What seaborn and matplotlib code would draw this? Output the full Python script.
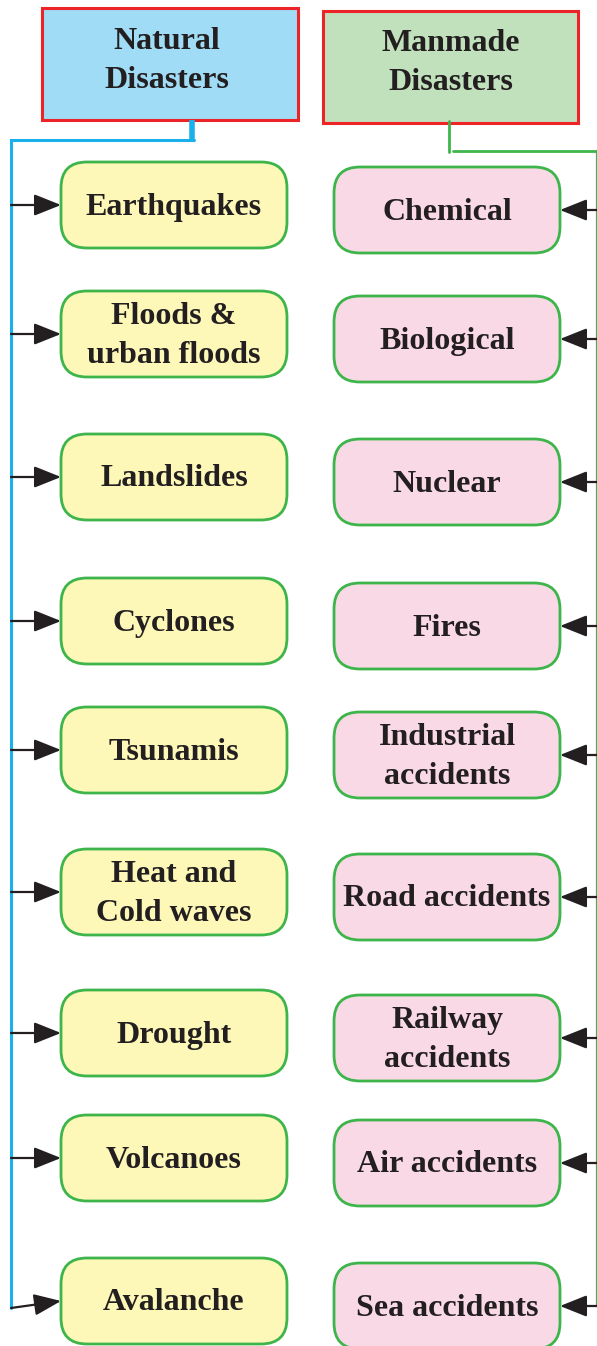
import matplotlib
matplotlib.use("Agg")
import matplotlib.pyplot as plt
from matplotlib.patches import FancyBboxPatch, Rectangle
import seaborn as sns

# categories
natural = ["Earthquakes", "Floods &\nurban floods", "Landslides", "Cyclones", "Tsunamis",
           "Heat and\nCold waves", "Drought", "Volcanoes", "Avalanche"]
manmade = ["Chemical", "Biological", "Nuclear", "Fires", "Industrial\naccidents",
           "Road accidents", "Railway\naccidents", "Air accidents", "Sea accidents"]
headers = ["Natural\nDisasters", "Manmade\nDisasters"]

# layout (pixel space of the 597x1346 picture)
natural_y = [205, 334, 477, 621, 750, 892, 1033, 1158, 1301]
manmade_y = [210, 339, 482, 626, 755, 897, 1038, 1163, 1306]

sns.set_theme(style="white")
plt.rcParams['font.family'] = ['Liberation Serif', 'DejaVu Serif']

W, H = 597, 1346
fig = plt.figure(figsize=(W / 100, H / 100), dpi=100)
ax = fig.add_axes([0, 0, 1, 1])
ax.set_xlim(0, W)
ax.set_ylim(H, 0)
ax.axis("off")

txt = dict(ha="center", va="center", fontsize=23, fontweight="bold", color="#231f20",
           linespacing=1.42)
green = "#3db54a"
blue = "#1ab0ec"

# header boxes
ax.add_patch(Rectangle((42, 8), 256, 112, facecolor="#a0dcf6", edgecolor="#ec2327", lw=2.2, zorder=2))
ax.text(167, 61, headers[0], **txt, zorder=3)
ax.add_patch(Rectangle((323, 11), 255, 112, facecolor="#c1e0bc", edgecolor="#ec2327", lw=2.2, zorder=2))
ax.text(451, 63, headers[1], **txt, zorder=3)

# blue connector for natural disasters
ax.plot([192, 192], [120, 139], color=blue, lw=4, solid_capstyle="butt")
ax.plot([194, 11, 11], [139.5, 139.5, 1308], color=blue, lw=2.2, solid_joinstyle="miter")

# green connector for manmade disasters
ax.plot([449, 449], [121, 152], color=green, lw=2)
ax.plot([453, 597], [151, 151], color=green, lw=2)
ax.plot([596.5, 596.5], [151, 1306], color=green, lw=1.6)

arrow = dict(arrowstyle="-|>,head_length=0.55,head_width=0.22", color="#231f20", lw=1.6,
             mutation_scale=30, shrinkA=0, shrinkB=0)

def box(x0, yc, label, face):
    ax.add_patch(FancyBboxPatch((x0, yc - 43), 226, 86,
                                boxstyle="round,pad=0,rounding_size=26",
                                facecolor=face, edgecolor=green, lw=2, zorder=2))
    ax.text(x0 + 113, yc + 2, label, **txt, zorder=3)

for i, (label, y) in enumerate(zip(natural, natural_y)):
    box(61, y, label, "#fdf8b8")
    y0 = 1308 if i == len(natural) - 1 else y
    ax.annotate("", xy=(61, y), xytext=(11, y0), arrowprops=arrow, zorder=4)

for label, y in zip(manmade, manmade_y):
    box(334, y, label, "#f9d9e6")
    ax.annotate("", xy=(560, y), xytext=(597, y), arrowprops=arrow, zorder=4)

fig.savefig("out.png", dpi=100)
